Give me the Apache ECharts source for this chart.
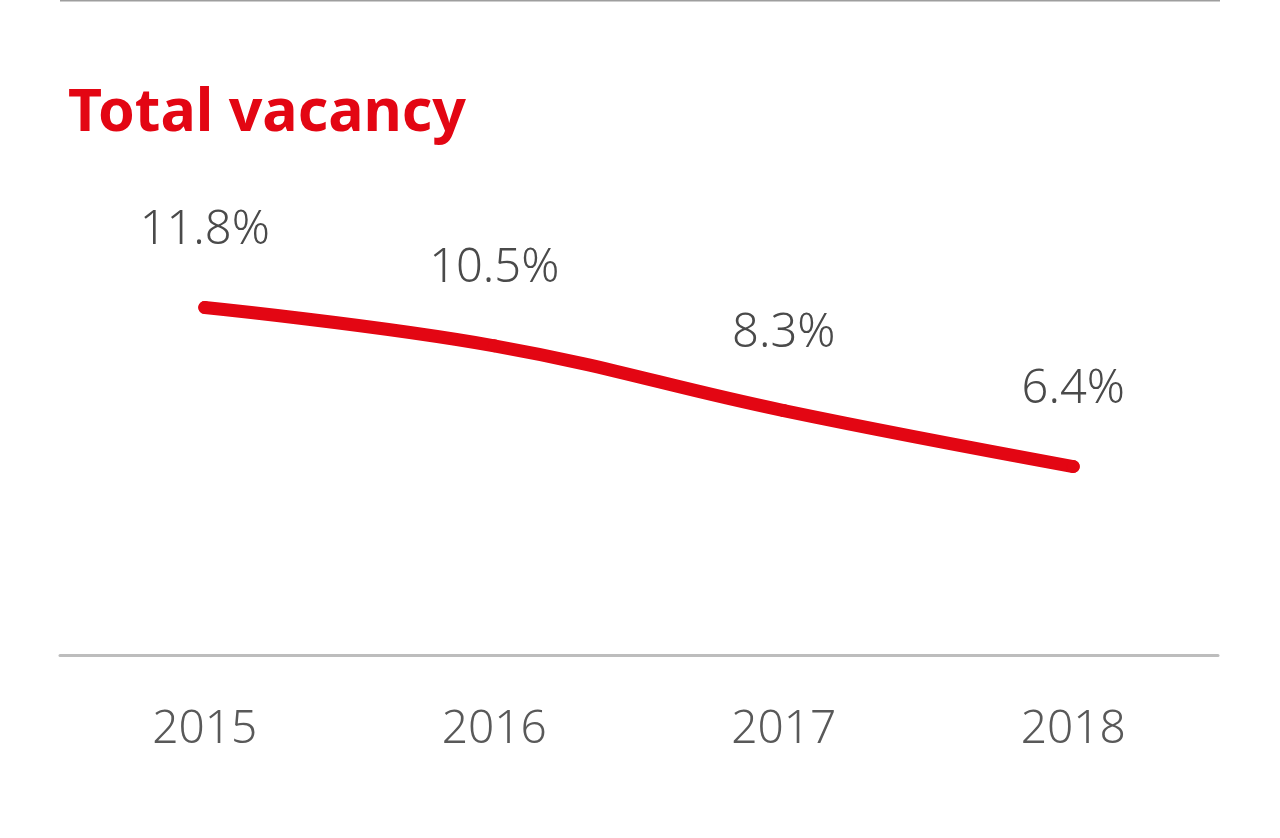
<!DOCTYPE html>
<html>
<head>
<meta charset="utf-8">
<script src="https://cdn.jsdelivr.net/npm/echarts@6/dist/echarts.min.js"></script>
<style>
  html, body { margin: 0; padding: 0; background: #fff; }
  #chart { width: 1280px; height: 838px; }
</style>
</head>
<body>
<div id="chart"></div>
<script>
// data
const years = ['2015', '2016', '2017', '2018']
const vacancy = [11.8, 10.5, 8.3, 6.4]

const red = '#e30613'
const font = '"Source Sans Pro", "Noto Sans", sans-serif'

let chart = echarts.init(document.getElementById('chart'))
chart.setOption({
  backgroundColor: '#fff',
  animation: false,
  title: {
    text: 'Total vacancy',
    left: 63,
    top: 80,
    textStyle: { color: red, fontSize: 59, fontWeight: 'bold', fontFamily: font }
  },
  // thin rule at the top edge
  graphic: [{
    type: 'line',
    shape: { x1: 60, y1: 0.5, x2: 1220, y2: 0.5 },
    style: { stroke: '#9e9e9e', lineWidth: 2 }
  }],
  grid: { left: 60, right: 62, top: 66, bottom: 183 },
  xAxis: {
    type: 'category',
    data: years,
    boundaryGap: true,
    axisLine: { lineStyle: { color: '#bdbdbd', width: 3 } },
    axisTick: { show: false },
    axisLabel: { color: '#595959', fontSize: 46, fontWeight: 300, fontFamily: font, margin: 52 }
  },
  yAxis: {
    type: 'value',
    min: 0,
    max: 20,
    show: false
  },
  series: [{
    type: 'line',
    data: vacancy,
    smooth: 0.4,
    symbol: 'circle',
    symbolSize: 13,
    itemStyle: { color: red },
    lineStyle: { color: red, width: 13, cap: 'round' },
    label: {
      show: true,
      position: 'top',
      distance: 47,
      color: '#4a4a4a',
      fontSize: 47,
      fontWeight: 300,
      fontFamily: font,
      formatter: p => p.value + '%'
    }
  }]
})
</script>
</body>
</html>
